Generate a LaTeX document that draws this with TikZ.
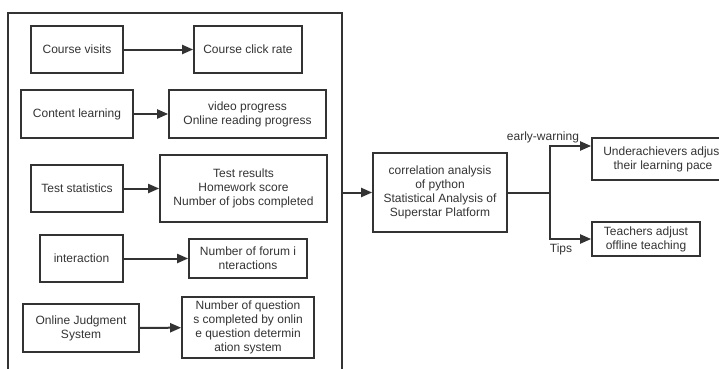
\documentclass[tikz,border=0pt]{standalone}
\usepackage{fontspec}
\setmainfont{Liberation Sans}
\usetikzlibrary{arrows.meta}
\definecolor{ink}{HTML}{333333}
\begin{document}
\begin{tikzpicture}[x=1pt,y=-1pt,
  font=\fontsize{12}{14}\selectfont,
  box/.style={draw=ink,line width=1.7pt,text=ink,align=center,inner sep=0pt,
    minimum width=#1},
  link/.style={draw=ink,line width=2pt,-{Triangle[length=11pt,width=9pt]}},
  tag/.style={text=ink,inner sep=0pt}]
\useasboundingbox (0,0) rectangle (719,368);
\clip (0,0) rectangle (719,368);

% outer frame around the data sources (bottom edge runs off the page)
\node[box=334pt,minimum height=367pt] (outer) at (175,196.5) {};

% data sources and their indicators
\node[box=92pt,minimum height=47pt]  (cv)  at (77,49.5)   {Course visits};
\node[box=108pt,minimum height=47pt] (ccr) at (248,49.5)  {Course click rate};
\node[box=112pt,minimum height=48pt] (cl)  at (77,114)    {Content learning};
\node[box=157pt,minimum height=48pt] (vp)  at (247.5,114) {video progress\\Online reading progress};
\node[box=92pt,minimum height=47pt]  (ts)  at (77,188.5)  {Test statistics};
\node[box=167pt,minimum height=67pt] (tr)  at (243.5,188.5) {Test results\\Homework score\\Number of jobs completed};
\node[box=83pt,minimum height=47pt]  (itr) at (81.5,258.5) {interaction};
\node[box=118pt,minimum height=39pt] (nf)  at (248,258.5) {Number of forum i\\nteractions};
\node[box=116pt,minimum height=48pt] (oj)  at (81,328)    {Online Judgment\\System};
\node[box=132pt,minimum height=61pt] (nq)  at (248,327.5) {Number of question\\s completed by onlin\\e question determin\\ation system};

\draw[link] (cv)  -- (ccr);
\draw[link] (cl)  -- (vp);
\draw[link] (ts)  -- (tr);
\draw[link] (itr) -- (nf);
\draw[link] (oj)  -- (nq);

% analysis and outcomes
\node[box=134pt,minimum height=79pt] (corr) at (440,192.5) {correlation analysis\\of python\\Statistical Analysis of\\Superstar Platform};
\node[box=142pt,minimum height=42pt] (ua) at (663,159) {Underachievers adjust\\their learning pace};
\node[box=108pt,minimum height=34pt] (te) at (646,239) {Teachers adjust\\offline teaching};

\draw[link] (corr.west -| outer.east) -- (corr.west);
\coordinate (split) at (550,192.5);
\draw[draw=ink,line width=2pt] (corr.east) -- (split);
\draw[link] (split) |- ([yshift=13pt]ua.west);
\draw[link] (split) |- (te.west);

\node[tag] (ew) at (543,137.5) {early-warning};
\node[tag] (tips) at (561,249) {Tips};
\end{tikzpicture}
\end{document}
